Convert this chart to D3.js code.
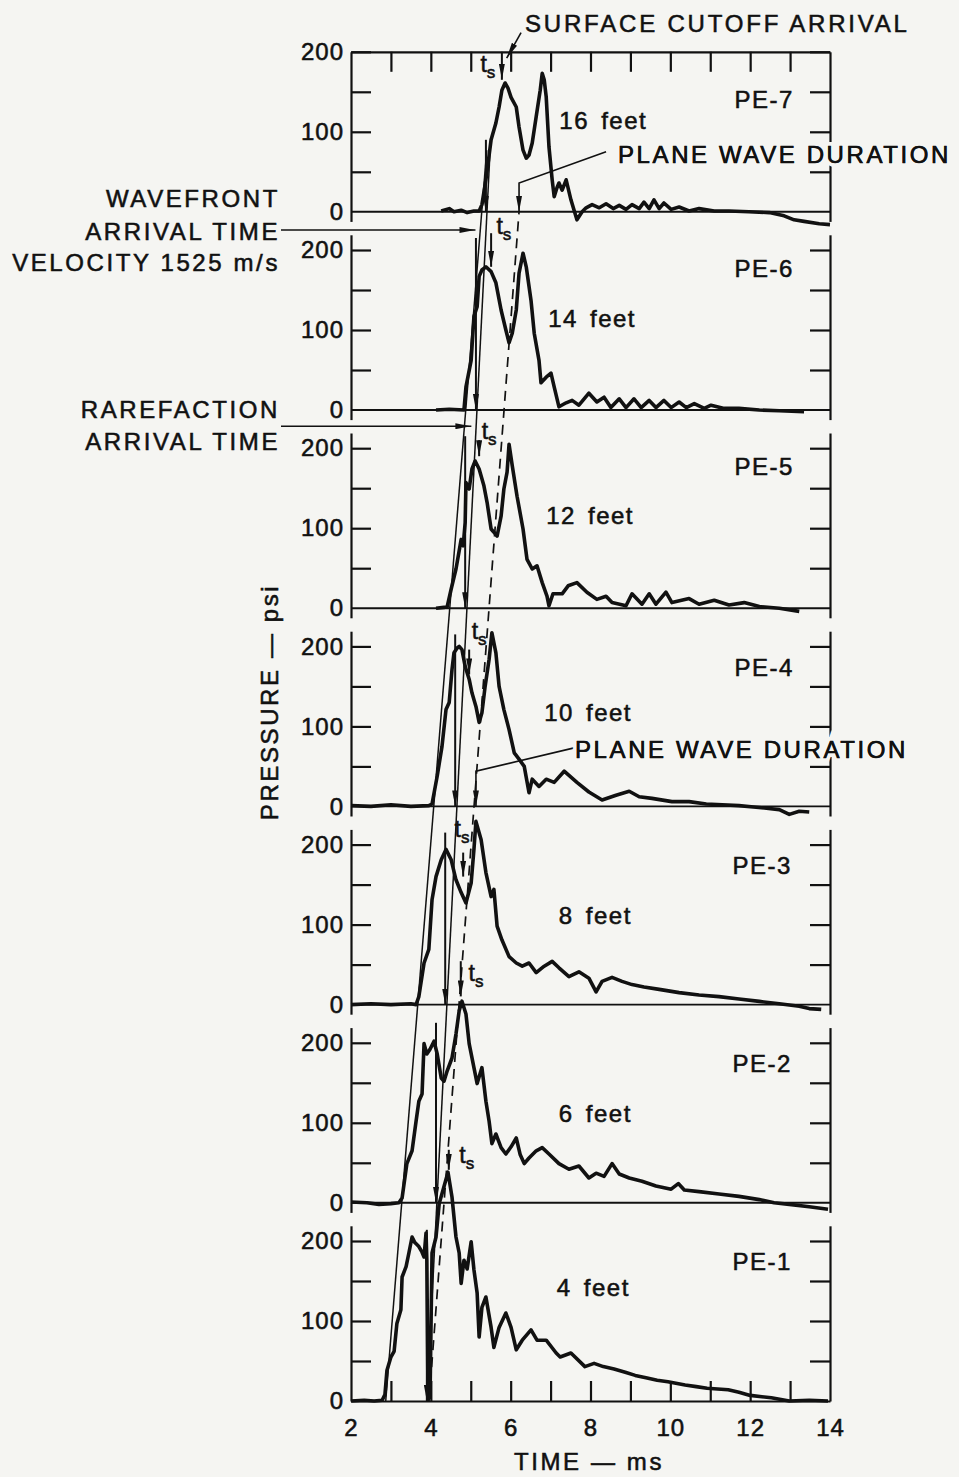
<!DOCTYPE html>
<html>
<head>
<meta charset="utf-8">
<script src="https://cdn.jsdelivr.net/npm/d3@7"></script>
<style>
  body { margin: 0; background: #f5f5f2; }
  svg { display: block; }
  text { font-family: "Liberation Sans", Arial, sans-serif; fill: #111; stroke: #111; stroke-width: 0.55px; }
</style>
</head>
<body>
<svg id="chart" width="959" height="1477"></svg>
<script>
// gauges, bottom panel first
const panels = ["PE-1", "PE-2", "PE-3", "PE-4", "PE-5", "PE-6", "PE-7"];
const depths = ["4 feet", "6 feet", "8 feet", "10 feet", "12 feet", "14 feet", "16 feet"];
const panelLabelT = [12.3, 12.3, 12.3, 12.35, 12.35, 12.35, 12.35];
const panelLabelPsi = [174, 174, 174, 174, 177, 177, 140];
const depthT = [8.07, 8.12, 8.12, 7.94, 7.99, 8.04, 8.32];
const depthPsi = [142, 112, 112, 117, 116, 114, 114];

const xTickLabels = [2, 4, 6, 8, 10, 12, 14];
const xTicks = [3, 4, 5, 6, 7, 8, 9, 10, 11, 12, 13];
const yTicks = [50, 100, 150, 200];
const yTickLabels = [0, 100, 200];

// pressure records [time ms, psi]
const pe1 = [[2.0,0],[2.33,1],[2.58,0],[2.78,1],[2.85,8],[2.9,38],[3.0,55],[3.08,62],[3.15,97],[3.25,114],[3.28,155],[3.38,168],[3.45,185],[3.53,205],[3.6,198],[3.7,193],[3.78,186],[3.83,180],[3.88,210],[3.9,176],[3.93,2],[3.98,5],[4.03,185],[4.13,205],[4.21,247],[4.33,268],[4.43,286],[4.53,255],[4.63,205],[4.71,185],[4.76,147],[4.83,176],[4.91,165],[5.01,199],[5.08,164],[5.16,135],[5.21,80],[5.28,117],[5.38,130],[5.51,92],[5.58,67],[5.71,92],[5.88,110],[6.01,92],[6.14,64],[6.29,76],[6.51,89],[6.66,76],[6.89,76],[7.14,60],[7.24,55],[7.51,60],[7.86,43],[8.09,47],[8.32,43],[8.59,40],[8.87,36],[9.12,32],[9.39,29],[9.67,26],[9.94,24],[10.37,20],[10.65,18],[10.92,16],[11.45,14],[11.72,11],[12.0,7],[12.53,4],[12.98,0],[13.48,1],[13.95,0]];
const pe2 = [[2.0,1],[2.4,0],[2.7,-2],[3.0,-1],[3.2,0],[3.28,6],[3.4,49],[3.53,65],[3.63,102],[3.7,127],[3.78,136],[3.83,199],[3.9,186],[3.98,192],[4.08,202],[4.16,186],[4.26,156],[4.33,152],[4.41,165],[4.53,181],[4.63,211],[4.71,240],[4.78,252],[4.88,236],[4.96,199],[5.08,169],[5.16,149],[5.28,169],[5.38,127],[5.46,102],[5.53,74],[5.63,86],[5.76,69],[5.88,61],[6.01,70],[6.14,81],[6.24,60],[6.34,49],[6.46,56],[6.64,65],[6.79,69],[6.96,61],[7.21,49],[7.46,42],[7.71,46],[7.96,31],[8.14,37],[8.34,33],[8.54,49],[8.72,36],[8.97,31],[9.29,27],[9.64,21],[10.02,17],[10.2,24],[10.35,16],[10.72,14],[11.22,11],[11.72,8],[12.23,4],[12.6,0],[12.98,-2],[13.48,-5],[13.95,-8]];
const pe3 = [[2.0,0],[2.5,1],[3.0,0],[3.5,1],[3.63,0],[3.7,10],[3.83,52],[3.95,69],[4.03,131],[4.13,160],[4.26,181],[4.38,194],[4.51,181],[4.63,156],[4.76,140],[4.88,127],[5.01,152],[5.08,194],[5.13,229],[5.26,206],[5.38,165],[5.51,135],[5.58,144],[5.66,98],[5.78,81],[5.96,60],[6.14,52],[6.29,48],[6.46,52],[6.64,40],[6.84,48],[7.04,54],[7.21,46],[7.46,35],[7.71,41],[7.96,33],[8.14,16],[8.29,29],[8.54,34],[8.79,29],[9.04,25],[9.34,22],[9.72,19],[10.22,15],[10.72,12],[11.22,10],[11.72,7],[12.23,4],[12.73,1],[13.23,-2],[13.48,-5],[13.78,-6]];
const pe4 = [[2.0,1],[2.5,0],[3.0,2],[3.5,0],[3.95,1],[4.03,3],[4.16,38],[4.28,75],[4.38,121],[4.46,130],[4.53,171],[4.58,192],[4.66,198],[4.71,200],[4.78,196],[4.86,175],[4.96,159],[5.03,142],[5.13,125],[5.21,105],[5.28,117],[5.36,150],[5.46,184],[5.53,217],[5.63,192],[5.71,150],[5.83,121],[5.96,96],[6.09,67],[6.21,59],[6.34,50],[6.46,17],[6.54,34],[6.71,25],[6.89,34],[7.09,30],[7.34,44],[7.66,30],[7.96,18],[8.29,8],[8.64,14],[8.97,19],[9.22,12],[9.54,10],[10.04,6],[10.47,6],[10.9,3],[11.3,2],[11.72,1],[12.15,-1],[12.73,-4],[12.98,-10],[13.23,-6],[13.48,-7]];
const pe5 = [[4.13,0],[4.33,1],[4.41,2],[4.51,24],[4.63,49],[4.76,86],[4.81,78],[4.86,107],[4.88,157],[4.96,149],[5.03,174],[5.11,184],[5.21,174],[5.33,153],[5.41,132],[5.51,99],[5.58,95],[5.66,90],[5.76,115],[5.83,149],[5.91,170],[5.96,205],[6.04,178],[6.16,140],[6.31,99],[6.41,61],[6.54,49],[6.66,53],[6.79,32],[6.91,15],[6.96,3],[7.06,18],[7.29,18],[7.44,28],[7.66,32],[7.91,20],[8.16,11],[8.39,15],[8.54,7],[8.89,3],[9.04,18],[9.29,5],[9.47,18],[9.64,5],[9.89,20],[10.04,7],[10.47,12],[10.72,5],[11.1,10],[11.47,4],[11.85,7],[12.23,2],[12.73,0],[13.23,-4]];
const pe6 = [[4.13,0],[4.46,1],[4.83,0],[4.88,29],[5.01,62],[5.08,117],[5.16,129],[5.21,167],[5.28,175],[5.38,179],[5.51,173],[5.63,159],[5.76,125],[5.88,100],[5.96,84],[6.04,96],[6.14,125],[6.21,171],[6.31,196],[6.39,179],[6.51,137],[6.59,96],[6.71,62],[6.76,34],[6.89,41],[7.01,46],[7.09,29],[7.21,4],[7.39,9],[7.54,12],[7.71,6],[7.96,21],[8.16,10],[8.34,16],[8.51,3],[8.72,14],[8.89,3],[9.09,14],[9.27,3],[9.47,12],[9.64,3],[9.84,12],[10.02,3],[10.22,10],[10.4,3],[10.6,8],[10.85,2],[11.02,6],[11.35,2],[11.72,2],[12.23,0],[12.73,-1],[13.35,-2]];
const pe7 = [[4.26,1],[4.46,4],[4.58,0],[4.76,2],[4.91,-1],[5.08,1],[5.21,1],[5.28,9],[5.38,40],[5.51,90],[5.63,111],[5.71,131],[5.78,152],[5.86,161],[5.93,155],[6.01,143],[6.14,131],[6.21,106],[6.31,77],[6.39,67],[6.46,71],[6.54,86],[6.64,119],[6.74,152],[6.79,173],[6.84,165],[6.89,144],[6.96,81],[7.04,40],[7.09,19],[7.16,30],[7.21,36],[7.29,27],[7.39,40],[7.51,15],[7.66,-10],[7.79,0],[7.89,5],[8.04,9],[8.22,5],[8.39,10],[8.57,4],[8.72,8],[8.89,3],[9.04,9],[9.22,4],[9.34,12],[9.47,4],[9.59,15],[9.72,4],[9.84,11],[10.02,3],[10.22,6],[10.47,1],[10.72,4],[11.1,1],[11.47,1],[11.97,0],[12.48,-1],[12.85,-5],[13.1,-10],[13.35,-12],[13.73,-15],[14.0,-16]];
const traces = [pe1, pe2, pe3, pe4, pe5, pe6, pe7];

// surface cutoff arrivals t_s: time, arrow from/to psi, label position
const tsTime = [4.45, 4.75, 4.81, 4.96, 5.21, 5.51, 5.78];
const tsFrom = [314, 302, 190, 196, 210, 221, 200];
const tsTo = [289, 258, 160, 165, 190, 179, 165];
const tsLabelT = [4.9, 5.13, 4.78, 5.21, 5.46, 5.83, 5.43];
const tsLabelPsi = [297, 277, 209, 209, 211, 220, 175];

// rarefaction arrows in each panel
const rareTime = [3.90, 4.13, 4.36, 4.61, 4.86, 5.13, 5.38];
const rareTop = [214, 225, 215, 215, 215, 215, 90];

// straight construction lines: [time, panel, psi]
const wavefrontLine = [[2.87, 0, 0], [5.40, 6, 77]];
const rarefactionLine = [[3.90, 0, 0], [5.50, 6, 92]];
const planeWaveLine = [[3.955, 0, 0], [6.21, 6, 0]];

const PANEL = 247.75;   // psi between stacked zero lines
const bg = "#f5f5f2";
const ink = "#111";
const svg = d3.select("#chart");
const x = d3.scaleLinear().domain([2, 14]).range([351, 830]);
const ys = d3.scaleLinear().domain([0, 200]).range([1401, 1241]);
const Y = (k, p) => ys(k * PANEL + p);

const defs = svg.append("defs");
defs.append("marker").attr("id", "ah")
    .attr("viewBox", "0 0 16 6").attr("refX", 16).attr("refY", 3)
    .attr("markerWidth", 16).attr("markerHeight", 6)
    .attr("markerUnits", "userSpaceOnUse").attr("orient", "auto")
  .append("path").attr("d", "M0,0L16,3L0,6Z").attr("fill", ink);

// axes of each panel
panels.forEach((name, k) => {
    const lo = k === 0 ? 0 : -12;
    const hi = k === 6 ? 200 : 219;
    const yk = d3.scaleLinear().domain([lo, hi]).range([Y(k, lo), Y(k, hi)]);

    svg.append("g").attr("class", "yl")
        .attr("transform", "translate(" + x(2) + ",0)")
        .call(d3.axisLeft(yk).tickValues(yTicks).tickSize(-20).tickSizeOuter(0).tickFormat(""));
    svg.append("g").attr("class", "yr")
        .attr("transform", "translate(" + x(14) + ",0)")
        .call(d3.axisRight(yk).tickValues(yTicks).tickSize(-20).tickSizeOuter(0).tickFormat(""));
    const lab = svg.append("g").attr("class", "ylab")
        .attr("transform", "translate(" + x(2) + ",0)")
        .call(d3.axisLeft(yk).tickValues(yTickLabels).tickSize(0).tickPadding(7));
    lab.select(".domain").remove();

    if (k > 0) {
        svg.append("line")
            .attr("x1", x(2)).attr("x2", x(14))
            .attr("y1", Y(k, 0)).attr("y2", Y(k, 0))
            .attr("stroke", ink).attr("stroke-width", 1.9);
    }

    svg.append("text")
        .attr("x", x(panelLabelT[k])).attr("y", Y(k, panelLabelPsi[k]))
        .attr("dy", "0.36em").attr("text-anchor", "middle")
        .attr("font-size", 24).attr("letter-spacing", 1.5)
        .text(name);
    svg.append("text")
        .attr("x", x(depthT[k])).attr("y", Y(k, depthPsi[k]))
        .attr("dy", "0.36em").attr("text-anchor", "middle")
        .attr("font-size", 24).attr("letter-spacing", 1.5).attr("word-spacing", 4)
        .text(depths[k]);
});

svg.append("g").attr("class", "xt")
    .attr("transform", "translate(0," + Y(6, 200) + ")")
    .call(d3.axisTop(x).tickValues(xTicks).tickSize(-20).tickSizeOuter(0).tickFormat(""));
svg.append("g").attr("class", "xb")
    .attr("transform", "translate(0," + Y(0, 0) + ")")
    .call(d3.axisBottom(x).tickValues(xTicks).tickSize(-20).tickSizeOuter(0).tickFormat(""));
const xlab = svg.append("g").attr("class", "xlab")
    .attr("transform", "translate(0," + Y(0, 0) + ")")
    .call(d3.axisBottom(x).tickValues(xTickLabels).tickSize(0).tickPadding(18));
xlab.select(".domain").remove();

svg.selectAll(".domain").attr("stroke", ink).attr("stroke-width", 2.2);
svg.selectAll(".tick line").attr("stroke", ink).attr("stroke-width", 2.2);
svg.selectAll(".ylab text, .xlab text")
    .attr("font-size", 24).attr("letter-spacing", 1).attr("fill", ink)
    .attr("font-family", "Liberation Sans, Arial, sans-serif");

// pressure traces
traces.forEach((data, k) => {
    const line = d3.line().x(d => x(d[0])).y(d => Y(k, d[1]));
    svg.append("path").datum(data)
        .attr("d", line)
        .attr("fill", "none").attr("stroke", ink)
        .attr("stroke-width", 3.6).attr("stroke-linejoin", "round");
});

// construction lines through the panels
const stackedLine = d3.line().x(d => x(d[0])).y(d => Y(d[1], d[2]));
svg.append("path").datum(wavefrontLine).attr("d", stackedLine)
    .attr("stroke", ink).attr("stroke-width", 1.5).attr("fill", "none");
svg.append("path").datum(rarefactionLine).attr("d", stackedLine)
    .attr("stroke", ink).attr("stroke-width", 1.5).attr("fill", "none");
svg.append("path").datum(planeWaveLine).attr("d", stackedLine)
    .attr("stroke", ink).attr("stroke-width", 1.7).attr("fill", "none")
    .attr("stroke-dasharray", "10,7");

// time on a construction line at a stacked height
function lineTime(ln, k, p) {
    const u0 = ln[0][1] * PANEL + ln[0][2], u1 = ln[1][1] * PANEL + ln[1][2];
    const u = k * PANEL + p;
    return ln[0][0] + (ln[1][0] - ln[0][0]) * (u - u0) / (u1 - u0);
}

// rarefaction arrows
rareTime.forEach((t, k) => {
    svg.append("line")
        .attr("x1", x(t)).attr("x2", x(t))
        .attr("y1", Y(k, rareTop[k])).attr("y2", Y(k, 0))
        .attr("stroke", ink).attr("stroke-width", 2)
        .attr("marker-end", "url(#ah)");
});

// t_s arrows and labels
tsTime.forEach((t, k) => {
    svg.append("line")
        .attr("x1", x(t)).attr("x2", x(t))
        .attr("y1", Y(k, tsFrom[k])).attr("y2", Y(k, tsTo[k]))
        .attr("stroke", ink).attr("stroke-width", 2)
        .attr("marker-end", "url(#ah)");
    const lbl = svg.append("text")
        .attr("x", x(tsLabelT[k])).attr("y", Y(k, tsLabelPsi[k]))
        .attr("text-anchor", "middle").attr("font-size", 23);
    lbl.append("tspan").text("t");
    lbl.append("tspan").attr("dy", 6).attr("font-size", 17).text("s");
});

// plane wave duration leaders: [time, psi] of text end, corner, then down to zero
const pwd = [
    { k: 6, from: [8.39, 75], corner: [6.21, 36], textX: 618, textY: 163 },
    { k: 3, from: [7.75, 75], corner: [5.13, 44], textX: 575, textY: 758 }
];
pwd.forEach(d => {
    svg.append("path")
        .attr("d", "M" + x(d.from[0]) + "," + Y(d.k, d.from[1]) +
                   "L" + x(d.corner[0]) + "," + Y(d.k, d.corner[1]) +
                   "V" + Y(d.k, 0))
        .attr("fill", "none").attr("stroke", ink).attr("stroke-width", 1.6)
        .attr("marker-end", "url(#ah)");
    svg.append("text")
        .attr("x", d.textX).attr("y", d.textY)
        .attr("font-size", 24).attr("letter-spacing", 2.6)
        .style("stroke", bg).style("stroke-width", "8px").attr("paint-order", "stroke")
        .text("PLANE WAVE DURATION");
    svg.append("text")
        .attr("x", d.textX).attr("y", d.textY)
        .attr("font-size", 24).attr("letter-spacing", 2.6)
        .text("PLANE WAVE DURATION");
});

// surface cutoff arrival
svg.append("text").attr("x", 525).attr("y", 32)
    .attr("font-size", 24).attr("letter-spacing", 2.8)
    .text("SURFACE CUTOFF ARRIVAL");
svg.append("line")
    .attr("x1", x(6.26)).attr("y1", Y(6, 224))
    .attr("x2", x(5.9)).attr("y2", Y(6, 192))
    .attr("stroke", ink).attr("stroke-width", 1.6)
    .attr("marker-end", "url(#ah)");

// left side callouts
const leftNotes = [
    { lines: ["WAVEFRONT", "ARRIVAL TIME", "VELOCITY 1525 m/s"], base: [207, 240, 271], k: 5, p: 225, ln: wavefrontLine },
    { lines: ["RAREFACTION", "ARRIVAL TIME"], base: [418, 450], k: 4, p: 227.5, ln: rarefactionLine }
];
leftNotes.forEach(n => {
    n.lines.forEach((s, i) => {
        svg.append("text").attr("x", 280).attr("y", n.base[i])
            .attr("text-anchor", "end").attr("font-size", 24).attr("letter-spacing", 2.6)
            .text(s);
    });
    const tEnd = lineTime(n.ln, n.k, n.p) - 0.12;
    svg.append("line")
        .attr("x1", 281).attr("x2", x(tEnd))
        .attr("y1", Y(n.k, n.p)).attr("y2", Y(n.k, n.p))
        .attr("stroke", ink).attr("stroke-width", 1.6)
        .attr("marker-end", "url(#ah)");
});

// axis titles
svg.append("text")
    .attr("transform", "translate(278,702) rotate(-90)")
    .attr("text-anchor", "middle").attr("font-size", 24).attr("letter-spacing", 2.6)
    .text("PRESSURE \u2014 psi");
svg.append("text")
    .attr("x", 589).attr("y", 1470)
    .attr("text-anchor", "middle").attr("font-size", 24).attr("letter-spacing", 2.6)
    .text("TIME \u2014 ms");
</script>
</body>
</html>
